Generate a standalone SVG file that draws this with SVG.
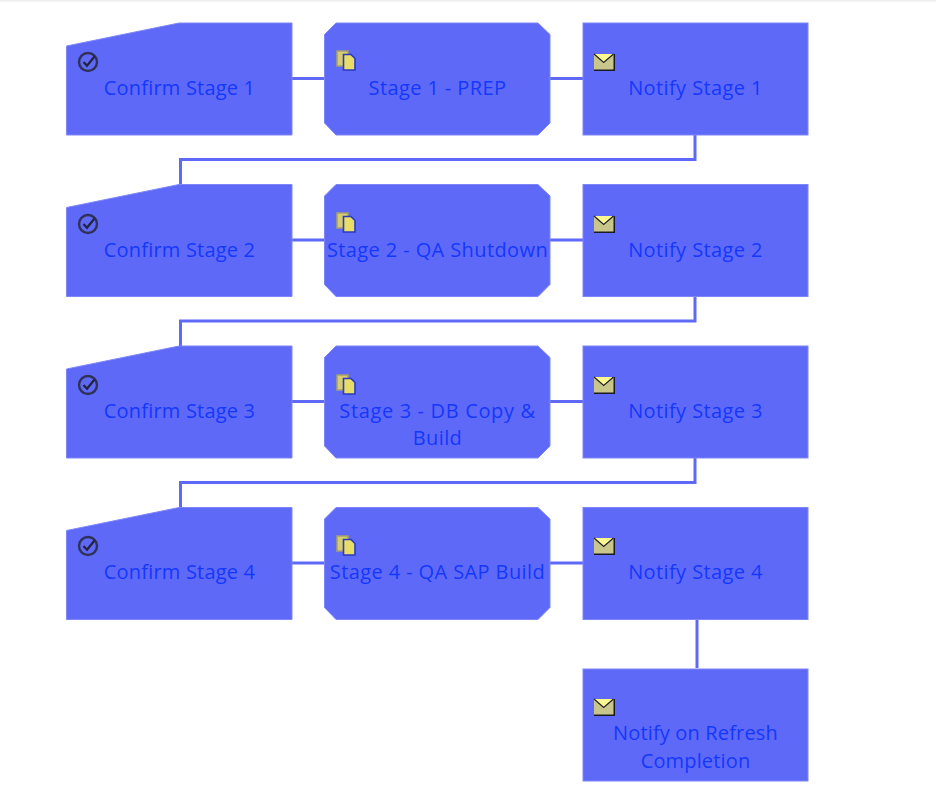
<svg xmlns="http://www.w3.org/2000/svg" xmlns:xlink="http://www.w3.org/1999/xlink" width="936" height="808" viewBox="0 0 936 808">
<style>
.n{fill:#5f69f8;stroke:#7e86fa;stroke-width:1}
.c{fill:none;stroke:#5f69f8;stroke-width:3}
text{font-family:"Open Sans","Noto Sans","Liberation Sans",sans-serif;font-size:20px;fill:#1438fb;text-anchor:middle;letter-spacing:.4px}
text.k{letter-spacing:.2px}
text.t{letter-spacing:.15px}
</style>
<defs>
<g id="chk"><circle cx="0" cy="0" r="9" fill="none" stroke="#2f3157" stroke-width="2.400"/><path d="M-4.500 0L-1 3.800L6.500 -5.500" fill="none" stroke="#23243c" stroke-width="2.200"/></g>
<g id="doc"><rect x="0" y="0" width="11" height="15" fill="#d6cc72" stroke="#a69f70" stroke-width="1.500"/><path d="M6.500 3.500H14L18 7.500V19H6.500Z" fill="#e8dd66" stroke="#2b3ac0" stroke-width="1.600"/></g>
<g id="env"><rect x="0" y="0" width="21" height="17" fill="#1b1b24"/><rect x="0" y="0" width="19.500" height="15.500" fill="#c9c68c"/><path d="M0 0H19.500L9.700 8.500Z" fill="#fbf98f"/><path d="M0 0L9.700 8.500L19.500 0" fill="none" stroke="#23232a" stroke-width="1.300"/></g>
<path id="conf" d="M0.500 23.500L113 0.500H226V112.500H0.500Z"/>
<path id="oct" d="M12 0.500H214L226 12V100.500L214 112.500H12L0.500 100.500V12Z"/>
<rect id="rct" x="0.500" y="0.500" width="225" height="112"/>
</defs>
<rect x="0" y="0" width="936" height="808" fill="#ffffff"/>
<rect x="0" y="0" width="936" height="1.500" fill="#eeeeee"/>
<g id="connectors">
<path class="c" d="M292 78.500H583"/><path class="c" d="M292 240H583"/><path class="c" d="M292 401.500H583"/><path class="c" d="M292 563H583"/>
<path class="c" d="M695 135V159.500H180.500V184"/>
<path class="c" d="M695 297V321H180.500V346"/>
<path class="c" d="M695 458V482.500H180.500V507"/>
<path class="c" d="M697 619V668"/>
</g>
<g id="confirm1"><use xlink:href="#conf" class="n" x="66" y="22.500"/><use xlink:href="#chk" x="88" y="62"/><text class="k" x="179.500" y="95">Confirm Stage 1</text></g>
<g id="stage1"><use xlink:href="#oct" class="n" x="324" y="22.500"/><use xlink:href="#doc" x="337" y="51"/><text x="437.500" y="95">Stage 1 - PREP</text></g>
<g id="notify1"><use xlink:href="#rct" class="n" x="582.500" y="22.500"/><use xlink:href="#env" x="594" y="54"/><text x="695.500" y="95">Notify Stage 1</text></g>
<g id="confirm2"><use xlink:href="#conf" class="n" x="66" y="184"/><use xlink:href="#chk" x="88" y="224"/><text class="k" x="179.500" y="257">Confirm Stage 2</text></g>
<g id="stage2"><use xlink:href="#oct" class="n" x="324" y="184"/><use xlink:href="#doc" x="337" y="213"/><text x="437.500" y="257">Stage 2 - QA Shutdown</text></g>
<g id="notify2"><use xlink:href="#rct" class="n" x="582.500" y="184"/><use xlink:href="#env" x="594" y="216"/><text x="695.500" y="257">Notify Stage 2</text></g>
<g id="confirm3"><use xlink:href="#conf" class="n" x="66" y="345.500"/><use xlink:href="#chk" x="88" y="385"/><text class="k" x="179.500" y="418">Confirm Stage 3</text></g>
<g id="stage3"><use xlink:href="#oct" class="n" x="324" y="345.500"/><use xlink:href="#doc" x="337" y="375"/><text style="letter-spacing:.65px" x="437.500" y="418">Stage 3 - DB Copy &amp;</text><text x="437.500" y="445">Build</text></g>
<g id="notify3"><use xlink:href="#rct" class="n" x="582.500" y="345.500"/><use xlink:href="#env" x="594" y="377"/><text x="695.500" y="418">Notify Stage 3</text></g>
<g id="confirm4"><use xlink:href="#conf" class="n" x="66" y="507"/><use xlink:href="#chk" x="88" y="546"/><text class="k" x="179.500" y="579">Confirm Stage 4</text></g>
<g id="stage4"><use xlink:href="#oct" class="n" x="324" y="507"/><use xlink:href="#doc" x="337" y="536"/><text x="437.500" y="579">Stage 4 - QA SAP Build</text></g>
<g id="notify4"><use xlink:href="#rct" class="n" x="582.500" y="507"/><use xlink:href="#env" x="594" y="538"/><text x="695.500" y="579">Notify Stage 4</text></g>
<g id="notify5"><use xlink:href="#rct" class="n" x="582.500" y="668.500"/><use xlink:href="#env" x="594" y="699"/><text class="t" x="695.500" y="740">Notify on Refresh</text><text class="t" x="695.500" y="768">Completion</text></g>
</svg>
